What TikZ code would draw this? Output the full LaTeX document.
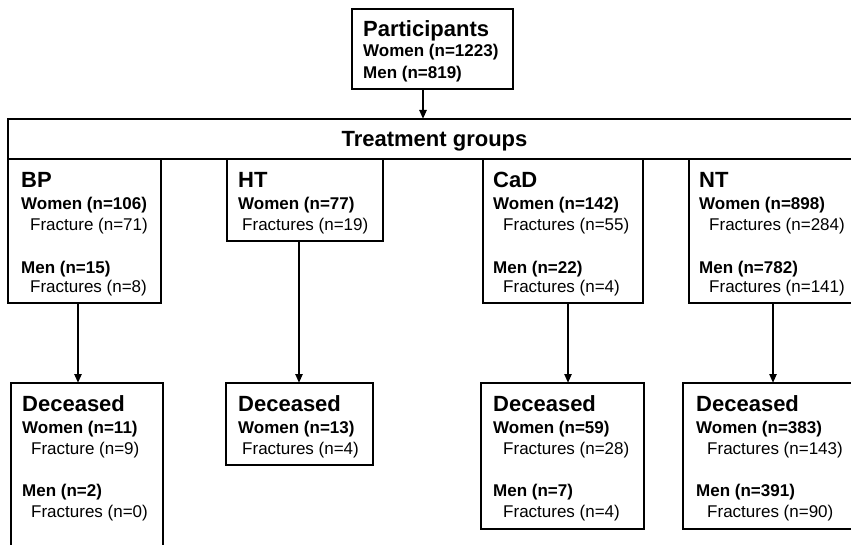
\documentclass[tikz,border=0pt]{standalone}
\usepackage{fontspec}
\setmainfont{Liberation Sans}
\usetikzlibrary{arrows.meta}
\begin{document}
\begin{tikzpicture}[x=1pt,y=-1pt,
 box/.style={draw, line width=2.9pt, inner sep=0pt, outer sep=0pt, anchor=north west},
 ttl/.style={anchor=base west, inner sep=0pt, font=\fontsize{22}{26}\selectfont\bfseries},
 bld/.style={anchor=base west, inner sep=0pt, font=\fontsize{17}{21}\selectfont\bfseries},
 nrm/.style={anchor=base west, inner sep=0pt, font=\fontsize{17}{21}\selectfont},
 arr/.style={line width=2.2pt, -{Triangle[length=9pt,width=7pt]}}]
\useasboundingbox (0,0) rectangle (851,545);
\clip (0,0) rectangle (851,545);
% boxes
\node[box, minimum width=161pt, minimum height=80pt] (part) at (352,9) {};
\node[box, minimum width=853pt, minimum height=40pt] (tg) at (8,119) {};
\node[box, minimum width=153pt, minimum height=144pt] (bp) at (8,159) {};
\node[box, minimum width=156pt, minimum height=82pt] (ht) at (227,159) {};
\node[box, minimum width=160pt, minimum height=144pt] (cad) at (483,159) {};
\node[box, minimum width=190pt, minimum height=144pt] (nt) at (689,159) {};
\node[box, minimum width=152pt, minimum height=200pt] (bpd) at (11,383) {};
\node[box, minimum width=147pt, minimum height=82pt] (htd) at (226,383) {};
\node[box, minimum width=163pt, minimum height=146pt] (cadd) at (481,383) {};
\node[box, minimum width=190pt, minimum height=146pt] (ntd) at (683,383) {};
% participants
\node[ttl] (pt1) at (363,36.5) {Participants};
\node[bld] (pt2) at (363,57) {Women (n=1223)};
\node[bld] (pt3) at (363,78.5) {Men (n=819)};
% treatment groups
\node[ttl, anchor=base] (tgt) at (434.5,147) {Treatment groups};
% BP
\node[ttl] (bp1) at (21,188) {BP};
\node[bld] (bp2) at (21,210) {Women (n=106)};
\node[nrm] (bp3) at (30,231) {Fracture (n=71)};
\node[bld] (bp4) at (21,273) {Men (n=15)};
\node[nrm] (bp5) at (30,293) {Fractures (n=8)};
% HT
\node[ttl] (ht1) at (238,188) {HT};
\node[bld] (ht2) at (238,210) {Women (n=77)};
\node[nrm] (ht3) at (242,231) {Fractures (n=19)};
% CaD
\node[ttl] (cad1) at (493,188) {CaD};
\node[bld] (cad2) at (493,210) {Women (n=142)};
\node[nrm] (cad3) at (503,231) {Fractures (n=55)};
\node[bld] (cad4) at (493,273) {Men (n=22)};
\node[nrm] (cad5) at (503,293) {Fractures (n=4)};
% NT
\node[ttl] (nt1) at (699,188) {NT};
\node[bld] (nt2) at (699,210) {Women (n=898)};
\node[nrm] (nt3) at (709,231) {Fractures (n=284)};
\node[bld] (nt4) at (699,273) {Men (n=782)};
\node[nrm] (nt5) at (709,293) {Fractures (n=141)};
% Deceased BP
\node[ttl] (bpd1) at (22,411) {Deceased};
\node[bld] (bpd2) at (22,433) {Women (n=11)};
\node[nrm] (bpd3) at (31,454) {Fracture (n=9)};
\node[bld] (bpd4) at (22,496) {Men (n=2)};
\node[nrm] (bpd5) at (31,517) {Fractures (n=0)};
% Deceased HT
\node[ttl] (htd1) at (238,411) {Deceased};
\node[bld] (htd2) at (238,433) {Women (n=13)};
\node[nrm] (htd3) at (242,454) {Fractures (n=4)};
% Deceased CaD
\node[ttl] (cadd1) at (493,411) {Deceased};
\node[bld] (cadd2) at (493,433) {Women (n=59)};
\node[nrm] (cadd3) at (503,454) {Fractures (n=28)};
\node[bld] (cadd4) at (493,496) {Men (n=7)};
\node[nrm] (cadd5) at (503,517) {Fractures (n=4)};
% Deceased NT
\node[ttl] (ntd1) at (696,411) {Deceased};
\node[bld] (ntd2) at (696,433) {Women (n=383)};
\node[nrm] (ntd3) at (707,454) {Fractures (n=143)};
\node[bld] (ntd4) at (696,496) {Men (n=391)};
\node[nrm] (ntd5) at (707,517) {Fractures (n=90)};
% connectors
\draw[arr] ([xshift=71pt]part.south west) -- ([xshift=71pt]part.south west |- tg.north);
\draw[arr] ([xshift=70pt]bp.south west) -- ([xshift=70pt]bp.south west |- bpd.north);
\draw[arr] ([xshift=72pt]ht.south west) -- ([xshift=72pt]ht.south west |- htd.north);
\draw[arr] ([xshift=85pt]cad.south west) -- ([xshift=85pt]cad.south west |- cadd.north);
\draw[arr] ([xshift=84pt]nt.south west) -- ([xshift=84pt]nt.south west |- ntd.north);
\end{tikzpicture}
\end{document}
